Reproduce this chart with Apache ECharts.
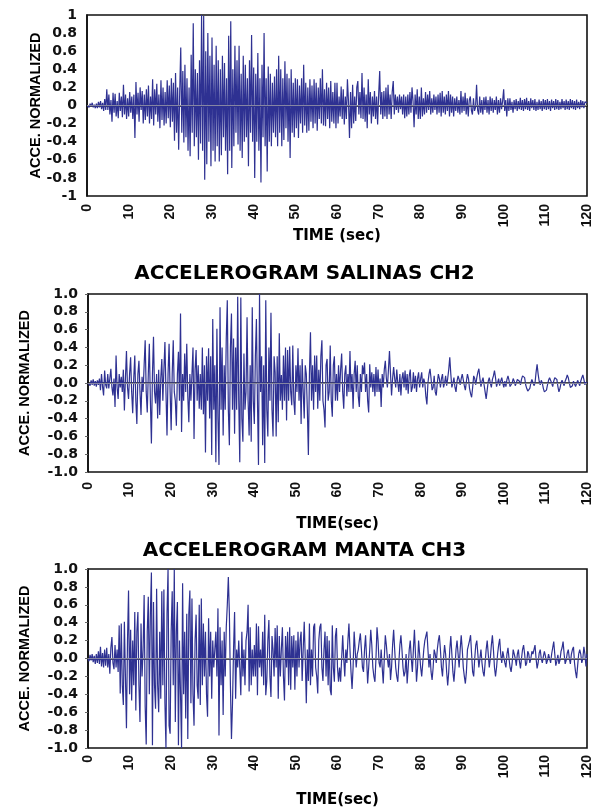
<!DOCTYPE html>
<html><head><meta charset="utf-8">
<script src="https://cdn.jsdelivr.net/npm/echarts@6/dist/echarts.min.js"></script>
<style>html,body{margin:0;padding:0;background:#fff}#c{width:594px;height:809px}</style>
</head><body><div id="c"></div>
<script>
// sample step of the digitised records (seconds)
const DT = 0.25;
const chartTitles = ['', 'ACCELEROGRAM SALINAS CH2', 'ACCELEROGRAM MANTA CH3'];
const xTitles = ['TIME (sec)', 'TIME(sec)', 'TIME(sec)'];
const yTitle = 'ACCE. NORMALIZED';
const timeRange = [0, 120];
const timeStep = 10;
const accRange = [-1, 1];
const accStep = 0.2;

// top record (normalized acceleration, every 0.25 s)
const acc1 = [
0,0.01,-0.02,0.02,-0.01,0.03,-0.02,0.01,-0.03,0.02,-0.03,0.04,-0.02,0.05,-0.04,0.03,-0.06,0.07,-0.05,0.18,
-0.05,0.12,-0.1,0.06,-0.18,0.14,-0.08,0.13,-0.12,0.05,-0.14,0.14,-0.06,0.1,-0.13,0.23,-0.1,0.12,-0.15,0.08,
-0.12,0.15,-0.08,0.1,-0.15,0.12,-0.36,0.26,-0.1,0.14,-0.18,0.2,-0.05,0.16,-0.2,0.12,-0.16,0.18,-0.12,0.22,
-0.2,0.1,-0.15,0.29,-0.22,0.18,-0.1,0.24,-0.18,0.12,-0.25,0.28,-0.16,0.2,-0.22,0.15,-0.2,0.28,-0.14,0.22,
-0.24,0.3,-0.18,0.25,-0.39,0.36,-0.3,0.2,-0.49,0.15,0.64,-0.3,0.38,-0.41,0.45,-0.35,0.3,-0.5,0.2,-0.56,
0.56,-0.3,0.91,-0.45,0.4,-0.35,0.36,-0.6,0.5,-0.42,1.0,-0.5,0.99,-0.82,0.6,-0.65,0.8,-0.4,0.55,-0.67,
0.75,-0.5,0.45,-0.62,0.66,-0.45,0.5,-0.62,0.4,-0.55,0.55,-0.35,0.47,-0.5,0.3,-0.76,0.77,-0.5,0.93,-0.69,
0.4,-0.45,0.66,-0.3,0.5,-0.43,0.66,-0.5,0.35,-0.58,0.55,-0.4,0.45,-0.35,0.3,-0.67,0.5,-0.3,0.78,-0.4,
0.42,-0.8,0.35,-0.4,0.58,-0.5,0.3,-0.85,0.45,-0.35,0.8,-0.45,0.3,-0.73,0.43,-0.4,0.35,-0.45,0.25,-0.3,
0.32,-0.35,0.4,-0.45,0.55,-0.3,0.4,-0.45,0.3,-0.38,0.49,-0.25,0.35,-0.4,0.3,-0.58,0.4,-0.3,0.25,-0.35,
0.3,-0.25,0.29,-0.36,0.22,-0.2,0.3,-0.3,0.45,-0.22,0.25,-0.3,0.2,-0.28,0.29,-0.18,0.22,-0.25,0.29,-0.2,
0.25,-0.28,0.2,-0.15,0.3,-0.2,0.4,-0.22,0.18,-0.23,0.25,-0.15,0.2,-0.25,0.27,-0.18,0.15,-0.2,0.25,-0.25,
0.25,-0.2,0.1,-0.12,0.21,-0.15,0.18,-0.21,0.1,-0.15,0.29,0.05,-0.36,0.15,-0.25,0.23,-0.2,0.1,-0.17,0.2,
0.27,-0.1,0.15,-0.14,0.36,-0.15,0.2,-0.18,0.12,-0.25,0.29,-0.1,0.15,-0.2,0.1,-0.12,0.16,-0.15,0.1,-0.21,
0.12,0.38,-0.1,0.15,-0.15,0.16,-0.12,0.2,-0.15,0.23,-0.1,0.12,-0.15,0.15,0.27,-0.1,0.12,-0.05,0.1,-0.08,
0.12,-0.04,0.1,-0.1,0.12,-0.14,0.1,-0.12,0.12,-0.1,0.15,-0.08,0.2,0.05,-0.24,0.12,-0.1,0.18,-0.15,0.1,
-0.15,0.2,-0.12,0.08,-0.1,0.15,-0.08,0.12,-0.05,0.16,-0.1,0.08,-0.08,0.12,-0.05,0.1,-0.1,0.12,-0.08,0.14,
-0.12,0.16,-0.08,0.1,-0.1,0.12,-0.06,0.16,-0.12,0.12,-0.08,0.1,-0.12,0.08,-0.06,0.1,-0.08,0.06,-0.1,0.16,
-0.08,0.1,-0.06,0.14,-0.1,0.08,-0.12,0.06,0.1,-0.05,-0.1,0.08,-0.06,-0.02,0.23,-0.05,-0.1,0.1,-0.08,0.06,
-0.1,0.09,-0.05,0.1,-0.08,0.06,-0.1,0.1,-0.06,0.08,-0.08,0.06,-0.05,0.1,-0.1,0.06,-0.08,0.08,-0.04,0.05,
0.18,-0.06,0.06,-0.12,0.08,-0.06,0.08,-0.05,0.04,-0.08,0.06,-0.04,0.07,-0.06,0.05,-0.04,0.085,-0.05,0.06,-0.06,
0.07,-0.04,0.085,-0.05,0.05,-0.06,0.08,-0.03,0.06,-0.05,0.07,-0.06,0.04,-0.05,0.066,-0.04,0.05,-0.06,0.07,-0.04,
0.06,-0.05,0.07,-0.04,0.05,-0.06,0.066,-0.03,0.05,-0.05,0.07,-0.04,0.06,-0.05,0.04,-0.04,0.07,-0.03,0.05,-0.05,
0.066,-0.04,0.05,-0.05,0.07,-0.03,0.06,-0.04,0.05,-0.05,0.066,-0.03,0.04,-0.04,0.06,-0.02,0.05,-0.03,0.04,0.02,
0.03];

// Salinas CH2
const acc2 = [
0,0.02,-0.03,0.03,-0.02,0.04,-0.03,0.02,-0.04,0.03,-0.02,0.05,-0.08,0.1,-0.04,-0.14,0.14,-0.02,-0.06,0.1,
-0.06,0.05,0.16,-0.05,-0.14,0.05,-0.27,0.31,-0.05,-0.18,0.1,-0.05,0.07,-0.1,0.15,-0.31,0.05,0.36,-0.05,-0.18,
0.1,0.29,-0.1,-0.34,0.05,0.31,-0.2,-0.46,0.1,0.25,-0.1,-0.36,0.07,-0.1,0.2,0.48,-0.1,-0.33,0.1,0.44,
-0.2,-0.68,0.1,0.52,-0.1,-0.23,0.1,-0.4,0.15,-0.36,0.05,0.27,-0.2,0.15,0.46,-0.1,-0.59,0.1,0.44,-0.1,
-0.53,0.1,0.48,-0.1,-0.2,-0.48,0.1,0.35,-0.2,0.78,-0.55,0.1,-0.2,0.33,-0.1,0.44,-0.15,-0.44,0.1,-0.2,
0.1,0.4,-0.63,0.15,0.37,-0.2,0.2,-0.29,0.1,-0.3,0.4,-0.35,0.2,-0.78,0.3,-0.2,0.39,-0.4,0.3,-0.81,
0.72,-0.3,0.2,-0.89,0.61,-0.4,-0.92,0.85,-0.3,0.4,-0.59,0.2,-0.3,0.5,0.93,-0.3,-0.7,0.4,0.78,-0.3,
0.5,-0.57,0.4,-0.3,0.97,-0.2,-0.89,0.96,-0.4,-0.66,0.33,-0.3,-0.1,0.74,-0.2,-0.59,0.2,-0.66,0.85,-0.2,
-0.46,0.3,0.72,-0.2,-0.92,1.0,-0.1,0.3,-0.7,0.2,-0.9,0.93,-0.3,-0.6,0.4,-0.2,0.79,-0.3,-0.6,0.3,
0.12,-0.6,0.3,-0.44,0.56,-0.2,0.09,-0.3,0.31,-0.2,0.4,-0.42,0.37,-0.2,0.41,-0.1,-0.25,0.42,-0.2,-0.36,
0.2,-0.1,0.39,-0.2,0.2,-0.46,0.27,-0.1,-0.4,0.2,0.1,-0.3,-0.81,0.1,0.57,-0.2,0.2,-0.3,0.31,-0.1,
0.31,-0.29,0.15,-0.2,0.3,0.48,-0.2,-0.3,-0.5,0.2,0.27,-0.2,-0.1,0.42,-0.2,-0.38,0.2,0.3,-0.2,0.1,
-0.2,0.2,-0.1,0.15,0.33,-0.1,-0.29,0.1,0.2,-0.15,0.1,-0.1,0.36,-0.1,0.1,-0.29,0.1,0.25,-0.1,0.2,
-0.15,-0.27,0.1,-0.1,0.2,0.1,0.23,-0.1,0.1,-0.2,-0.33,0.21,-0.05,0.12,-0.1,0.1,-0.15,0.18,-0.1,0.15,
-0.1,0.05,-0.27,0.1,-0.05,0.15,0.25,0.05,-0.05,0.15,0.36,0.1,-0.14,0.05,0.18,0.05,-0.05,0.15,0.0,-0.1,
0.1,-0.14,0.05,0.12,-0.05,0.14,-0.08,0.1,-0.12,0.08,0.15,-0.1,-0.05,0.12,-0.06,0.08,-0.1,0.05,0.12,-0.05,
0.05,0.12,-0.05,0.05,0.0,-0.15,-0.24,0.0,0.1,0.16,0.05,-0.08,-0.05,0.08,-0.1,-0.14,0.0,0.1,0.05,-0.05,
0.05,0.1,-0.05,0.0,0.08,-0.03,0.05,0.15,0.29,0.1,-0.05,0.0,0.06,-0.05,-0.1,0.02,0.08,0.04,-0.02,0.05,
0.1,0.08,-0.03,-0.08,0.02,0.1,0.05,-0.06,-0.12,-0.16,-0.05,0.08,0.05,-0.02,0.06,0.12,0.16,0.05,-0.04,0.02,
0.06,-0.02,-0.1,-0.18,-0.08,0.02,0.06,0.0,-0.05,0.04,0.08,0.14,0.06,-0.04,-0.02,0.05,-0.03,0.02,0.06,0.0,
-0.05,0.02,-0.04,0.04,0.08,0.03,-0.04,-0.06,0.0,0.05,0.02,-0.03,0.0,0.04,0.06,0.02,-0.02,0.04,0.08,0.1,
0.06,-0.02,-0.06,-0.09,-0.1,-0.06,0.0,0.04,0.02,-0.03,0.0,0.12,0.21,0.1,0.02,-0.02,0.03,0.0,-0.06,-0.1,
-0.12,-0.08,-0.02,0.03,0.06,0.04,0.0,-0.04,0.02,0.06,0.08,0.04,-0.04,-0.1,-0.06,0.0,0.03,0.0,-0.03,0.02,
0.05,0.09,0.06,0.0,-0.05,-0.07,-0.03,0.02,0.0,-0.04,-0.02,0.03,0.0,-0.03,0.02,0.06,0.09,0.04,-0.02,0.01,
0.0];

// Manta CH3
const acc3 = [
0,-0.03,0.04,-0.02,0.05,-0.04,0.03,-0.06,0.05,-0.05,0.08,-0.06,0.13,-0.09,0.06,-0.1,0.1,-0.08,0.12,-0.1,
0.05,-0.17,0.12,0.24,-0.05,-0.12,0.15,-0.1,0.1,-0.15,0.37,-0.39,0.39,-0.3,-0.52,0.41,-0.2,-0.78,0.2,0.76,
-0.4,0.32,-0.47,0.2,-0.3,0.52,-0.58,0.3,0.52,-0.3,-0.71,0.39,-0.2,0.1,0.71,-0.54,-0.96,0.3,0.69,-0.4,
0.5,0.96,-0.97,0.63,-0.3,-0.56,0.78,-0.3,-0.6,0.3,-0.45,0.75,-0.3,0.77,-0.5,-1.0,0.5,1.0,-0.75,-0.84,
0.3,0.75,-0.3,1.0,-0.71,0.3,0.63,-0.97,0.2,-0.4,-1.0,0.84,-0.4,0.3,-0.67,0.5,-0.9,0.5,0.76,-0.5,
0.67,-0.4,-0.75,0.2,0.49,-0.3,-0.45,0.6,-0.52,0.67,-0.3,0.39,-0.2,0.3,-0.4,-0.65,0.45,-0.2,0.3,-0.45,
0.2,-0.1,0.1,0.3,-0.2,0.56,-0.86,0.35,-0.3,0.2,-0.63,0.3,-0.2,0.35,0.6,0.91,0.5,-0.3,-0.9,-0.5,
0.1,0.52,-0.45,0.1,-0.1,0.2,-0.1,-0.41,0.3,-0.2,0.1,-0.3,0.2,0.3,0.6,-0.37,0.35,-0.3,0.1,-0.2,
0.15,-0.2,0.39,-0.41,0.36,-0.1,0.1,-0.2,0.3,-0.3,0.49,-0.41,-0.25,0.2,0.43,-0.2,-0.43,0.25,0.1,-0.2,
0.34,-0.1,0.37,-0.45,0.25,-0.2,0.1,0.35,-0.2,-0.47,0.25,-0.1,0.3,-0.3,0.35,-0.35,0.25,-0.1,0.26,-0.35,
0.2,-0.2,0.3,-0.1,0.2,0.3,-0.25,0.1,0.41,0.0,-0.5,0.1,-0.25,0.39,-0.3,0.1,-0.2,0.35,0.39,-0.1,
-0.2,-0.39,0.2,0.35,0.39,-0.1,-0.25,0.1,0.3,-0.2,0.25,-0.3,0.2,-0.35,-0.41,0.37,-0.1,-0.26,0.25,0.34,
-0.1,-0.26,-0.1,-0.26,0.0,0.26,0.0,-0.2,0.1,-0.05,0.2,0.39,0.1,-0.15,-0.34,-0.1,0.3,0.1,-0.1,0.05,
0.1,0.2,0.28,0.1,-0.1,-0.15,0.1,0.26,0.0,-0.28,-0.1,0.1,0.32,0.15,-0.1,-0.2,-0.26,0.0,0.35,0.2,
-0.05,-0.1,0.1,-0.1,-0.28,0.0,0.26,0.15,0.0,-0.1,0.05,-0.24,-0.1,0.15,0.32,0.1,-0.1,-0.2,-0.26,-0.05,
0.15,0.26,0.1,-0.1,-0.2,-0.15,0.05,-0.28,-0.1,0.1,0.2,0.0,-0.15,0.1,0.32,0.05,-0.26,-0.1,0.2,0.05,
-0.1,-0.2,-0.05,0.1,0.2,0.2,0.3,0.1,-0.1,0.05,-0.15,-0.24,-0.1,0.1,0.05,-0.05,0.1,0.2,0.26,0.1,
-0.1,-0.2,0.0,0.15,0.05,-0.15,-0.3,-0.15,0.1,0.25,0.05,-0.15,-0.26,-0.1,0.1,0.2,0.05,-0.1,0.1,0.26,
0.1,-0.1,-0.2,-0.28,-0.15,0.1,0.1,0.2,0.26,0.05,-0.15,-0.2,0.0,0.15,0.2,0.05,-0.1,0.0,0.1,-0.05,
-0.15,-0.2,-0.05,0.1,0.2,0.05,-0.1,0.0,0.15,0.26,0.1,-0.1,-0.2,-0.1,0.05,0.15,0.22,0.05,-0.05,0.08,
0.1,-0.05,-0.1,0.05,0.12,0.0,-0.1,-0.15,-0.05,0.1,0.12,0.0,-0.08,0.05,0.1,-0.03,-0.11,0.0,0.1,0.15,
0.05,-0.08,-0.05,0.08,0.05,-0.05,0.0,0.08,0.05,0.1,0.15,0.0,-0.11,-0.05,0.06,0.1,0.0,-0.05,0.02,0.08,
0.03,-0.06,-0.02,0.05,0.0,-0.05,0.05,0.12,0.19,0.05,-0.08,-0.03,0.04,-0.06,-0.02,0.08,0.12,0.19,0.05,-0.06,
-0.02,0.06,0.1,0.0,-0.06,0.05,0.1,0.13,-0.05,-0.15,-0.22,-0.08,0.05,0.1,0.05,-0.05,0.0,0.13,0.05,-0.09,
0.05];

const records = [acc1, acc2, acc3];

// ---- layout / styling (not data) ----
const gridBoxes = [
  {left: 87, top: 15, width: 501, height: 181},
  {left: 88, top: 294, width: 499, height: 178},
  {left: 88, top: 569, width: 499, height: 179}
];
const yNameGaps = [44, 56, 56];
const xNameGaps = [33, 45, 45];
const xLabelMargins = [8, 10, 7];
const titleTops = [0, 264, 541];
const LINE = '#2e3192';

const chart = echarts.init(document.getElementById('c'), null, {renderer: 'canvas'});
const option = {
  animation: false,
  backgroundColor: '#fff',
  title: chartTitles.map((t, i) => ({
    show: !!t, text: t, left: 304.5, top: titleTops[i], textAlign: 'center', padding: 0,
    textStyle: {fontFamily: 'DejaVu Sans', fontWeight: 'bold', fontSize: 20, color: '#000'}
  })),
  grid: gridBoxes.map(g => Object.assign({show: true, borderColor: '#111', borderWidth: 1.6, backgroundColor: '#fff', containLabel: false}, g)),
  xAxis: records.map((r, i) => ({
    type: 'value', gridIndex: i, min: timeRange[0], max: timeRange[1], interval: timeStep,
    name: xTitles[i], nameLocation: 'middle', nameGap: xNameGaps[i], nameMoveOverlap: false,
    nameTextStyle: {fontFamily: 'DejaVu Sans', fontWeight: 'bold', fontSize: 15, color: '#000'},
    axisLine: {show: true, lineStyle: {color: '#111', width: 1.6}},
    axisTick: {show: false},
    splitLine: {show: false},
    axisLabel: {rotate: 90, margin: xLabelMargins[i], fontFamily: 'Liberation Sans', fontWeight: 'bold', fontSize: 14, color: '#111'}
  })),
  yAxis: records.map((r, i) => ({
    type: 'value', gridIndex: i, min: accRange[0], max: accRange[1], interval: accStep,
    name: yTitle, nameLocation: 'middle', nameGap: yNameGaps[i], nameMoveOverlap: false,
    nameTextStyle: {fontFamily: 'Liberation Sans', fontWeight: 'bold', fontSize: 14.5, color: '#000'},
    axisLine: {show: true, lineStyle: {color: '#111', width: 1.6}},
    axisTick: {show: i > 0, length: 3, lineStyle: {color: '#666', width: 1}},
    splitLine: {show: false},
    axisLabel: {margin: 10, fontFamily: 'DejaVu Sans', fontWeight: 'bold', fontSize: 14, color: '#111',
      formatter: v => { const r10 = Math.round(v * 10) / 10; return i === 0 ? String(r10 === 0 ? 0 : r10) : r10.toFixed(1); }}
  })),
  series: records.map((r, i) => ({
    type: 'line', xAxisIndex: i, yAxisIndex: i, showSymbol: false, symbol: 'none',
    data: r.map((v, k) => [k * DT, v]),
    lineStyle: {color: LINE, width: 1.2},
    itemStyle: {color: LINE},
    markLine: {silent: true, symbol: 'none', label: {show: false},
      lineStyle: {color: '#aaa', width: 0.7, type: 'solid'}, data: [{yAxis: 0}]}
  }))
};
chart.setOption(option);
</script>
</body></html>
